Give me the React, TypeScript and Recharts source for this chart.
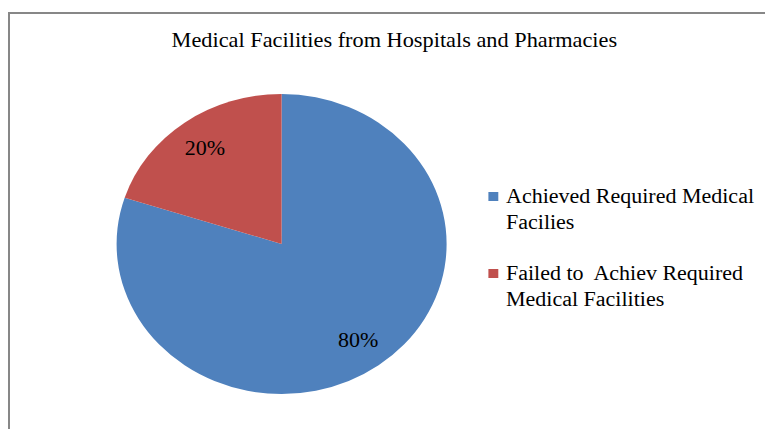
import { PieChart, Pie, Cell, Legend } from 'recharts';

const categories = ['Achieved Required Medical Facilies', 'Failed to  Achiev Required Medical Facilities'];
const shares = [80, 20];
const colors = ['#4F81BD', '#C0504D'];
const title = 'Medical Facilities from Hospitals and Pharmacies';

const data = categories.map((name, i) => ({ name, value: shares[i] }));

const FONT = '"Liberation Serif", "Times New Roman", Times, serif';
const RADIAN = Math.PI / 180;

// percentage label placed inside the slice
const renderLabel = ({ cx, cy, midAngle, outerRadius, percent }: any) => {
  const r = outerRadius * 0.79;
  const x = cx + r * Math.cos(-midAngle * RADIAN);
  const y = cy + r * Math.sin(-midAngle * RADIAN);
  return (
    <text
      x={x}
      y={y}
      fill="#000"
      textAnchor="middle"
      dominantBaseline="central"
      style={{ fontFamily: FONT, fontSize: 20 }}
    >
      {`${Math.round(percent * 100)}%`}
    </text>
  );
};

const LegendContent = ({ payload }: any) => (
  <div style={{ fontFamily: FONT, fontSize: 20, lineHeight: '25.5px', color: '#000' }}>
    {(payload || []).map((entry: any, i: number) => (
      <div key={i} style={{ display: 'flex', alignItems: 'flex-start', marginBottom: 26 }}>
        <div
          style={{
            width: 9,
            height: 9,
            background: entry.color,
            marginTop: 8,
            marginRight: 7,
            flexShrink: 0,
          }}
        />
        <div style={{ width: 240, whiteSpace: 'pre-wrap' }}>{entry.value}</div>
      </div>
    ))}
  </div>
);

export default function App() {
  return (
    <div style={{ position: 'fixed', left: 0, top: 0, width: 765, height: 429, background: '#fff', overflow: 'hidden' }}>
      <div
        style={{
          position: 'absolute',
          left: 8,
          top: 12,
          width: 770,
          height: 430,
          borderLeft: '2px solid #878787',
          borderTop: '2px solid #878787',
        }}
      />
      <div style={{ position: 'absolute', left: 0, top: 0, width: 696, height: 429, transform: 'scaleX(1.1)', transformOrigin: '0 0' }}>
        <div
          style={{
            position: 'absolute',
            left: 0,
            top: 28,
            width: 717,
            lineHeight: '24px',
            textAlign: 'center',
            fontFamily: FONT,
            fontSize: 20.3,
            color: '#000',
          }}
        >
          {title}
        </div>
        <PieChart width={696} height={429} margin={{ top: 0, right: 0, bottom: 0, left: 0 }}>
          <Pie
            data={data}
            dataKey="value"
            nameKey="name"
            cx={256}
            cy={244}
            outerRadius={150}
            startAngle={90}
            endAngle={-270}
            stroke="none"
            label={renderLabel}
            labelLine={false}
            isAnimationActive={false}
          >
            {data.map((d, i) => (
              <Cell key={d.name} fill={colors[i]} />
            ))}
          </Pie>
          <Legend
            layout="vertical"
            content={<LegendContent />}
            wrapperStyle={{ left: 444, top: 184, width: 260 }}
          />
        </PieChart>
      </div>
    </div>
  );
}
